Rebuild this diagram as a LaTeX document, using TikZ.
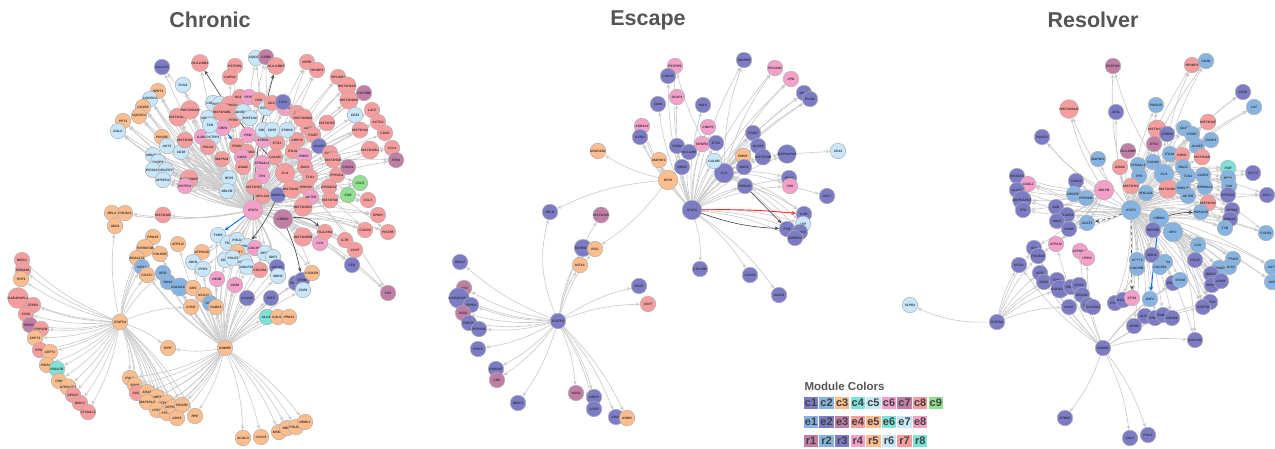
\documentclass[tikz,border=0pt]{standalone}
\usepackage{fontspec}
\setmainfont{Liberation Sans}
\usetikzlibrary{arrows.meta,backgrounds}
\definecolor{C1}{HTML}{7B7BC6}
\definecolor{C2}{HTML}{86B4E2}
\definecolor{C3}{HTML}{FDBD8C}
\definecolor{C4}{HTML}{7DE2D9}
\definecolor{C5}{HTML}{C9E7FA}
\definecolor{C6}{HTML}{F4A0CB}
\definecolor{C7}{HTML}{C07EA6}
\definecolor{C8}{HTML}{F89D9D}
\definecolor{C9}{HTML}{8FE08F}
\definecolor{ttl}{HTML}{555555}
\definecolor{edg}{HTML}{CBCBCB}
\tikzset{
 nd/.style={circle,draw=black!32,line width=0.5pt,minimum size=15.5pt,inner sep=0pt,
   font=\fontsize{3.3}{3.3}\selectfont\bfseries\itshape,text=black!80},
 hub/.style={nd,minimum size=19.5pt},
 edge/.style={draw=edg,line width=0.65pt,-{Stealth[length=4.4pt,width=3.6pt]},bend left=9},
 dedge/.style={draw=black!70,line width=0.65pt,-{Stealth[length=4.4pt,width=3.6pt]},bend left=6},
 bedge/.style={draw=blue!60!cyan,line width=0.9pt,-{Stealth[length=4.4pt,width=3.6pt]}},
 redge/.style={draw=red!85,line width=0.9pt,-{Stealth[length=4.4pt,width=3.6pt]},bend left=3},
 ttlsty/.style={font=\fontsize{21.5}{21.5}\selectfont\bfseries,text=ttl},
 sw/.style={minimum width=14.5pt,minimum height=12pt,inner sep=0pt,font=\fontsize{11}{11}\selectfont\bfseries,text=black!75}
}
\begin{document}
\begin{tikzpicture}[x=1pt,y=-1pt]
\useasboundingbox (0,0) rectangle (1275,448);
% titles
\node[ttlsty] (tC) at (210,20) {Chronic};
\node[ttlsty] (tE) at (648,20) {Escape};
\node[ttlsty] (tR) at (1093,20) {Resolver};
% ================= CHRONIC =================
\node[hub,fill=C6] (cSTAT1) at (253,210) {STAT1};
\node[nd,fill=C3] (cSTAT5A) at (120,322) {STAT5A};
\node[nd,fill=C3] (cKDM5B) at (225,348) {KDM5B};
\node[hub,fill=C7] (cCREB1) at (283,219) {CREB1};
\node[hub,fill=C8] (cFLI1) at (285,173) {FLI1};
\node[nd,fill=C5] (cRFX5) at (229,178) {RFX5};
\node[nd,fill=C5] (cNELFB) at (227,191) {NELFB};
\foreach \nm/\xx/\yy/\co/\lb in {
c1/162/67/C1/GALNT1, c2/200/63/C8/HLA-DRB1, c3/235/66/C8/PSTPIP1, c4/230/77/C8/CAPN2,
c5/256/58/C5/UQCRC1, c6/266/57/C7/CYBB, c7/276/66/C8/HLA-DRB5, c8/307/62/C8/NPPB,
c9/317/70/C8/HP1BP3, c10/338/77/C8/PECAM1, c11/347/86/C8/HIST1H2AE, c12/183/85/C5/FLNA,
c13/158/91/C3/HPRT1, c14/150/99/C5/UQCRC2, c15/143/107/C3/COX5B, c16/139/116/C3/UQCRC1,
c17/123/121/C3/PPT1, c18/118/131/C5/GALC, c19/178/117/C8/HIST1H2AL, c20/190/110/C8/HIST1H2AM,
c21/208/118/C5/NDUFS2, c22/162/137/C3/PIK3R2, c23/167/146/C5/AKT1, c24/181/152/C5/CD38,
c25/153/155/C5/NDUFA4, c26/158/162/C5/DUSP6, c27/153/170/C5/EIF2AK3, c28/166/170/C5/NDUFB7,
c29/163/180/C5/MTHFD2, c30/185/140/C8/HIST1H3E, c31/189/179/C8/HIST1H2BE, c32/202/137/C6/IL2RG,
c33/213/137/C5/DCTPP1, c34/208/147/C8/POLD2, c35/222/159/C8/MAPK11, c36/185/186/C6/ENTPD1,
c37/233/120/C8/PTEN, c38/223/128/C6/CBR1, c39/248/135/C6/PKM, c40/237/146/C8/ITGB2,
c41/247/152/C8/HLA-DMA, c42/242/157/C6/CMAS, c43/243/167/C8/GNAI2, c44/263/140/C6/STMN1,
c45/277/143/C8/ETS1, c46/297/140/C8/ARPC5, c47/308/128/C8/CD27, c48/313/135/C8/ITGB7,
c49/319/146/C1/ALOX5, c50/293/151/C8/ITGAL, c51/275/157/C8/CALM3, c52/262/163/C6/ST6GAL1,
c53/304/156/C6/PMVK, c54/262/176/C6/TPI1, c55/305/167/C8/RAC2, c56/310/177/C8/TLN1,
c57/254/187/C8/HIST1H1C, c58/263/196/C8/MYL12A, c59/278/195/C1/MAPK14, c60/292/189/C8/HIST1H2BD,
c61/306/187/C8/PRKCB, c62/329/187/C8/RPS6KA1, c63/311/197/C6/ACTR2, c64/303/207/C8/HIST1H2BC,
c65/330/200/C8/HIST1H3D, c66/327/123/C8/HIST1H1E, c67/330/153/C8/CASP1, c68/333/160/C8/HIST1H1B,
c69/337/175/C8/PPP2CA, c70/348/167/C7/CXCR1, c71/348/195/C9/FGR, c72/213/103/C5/CDK5R1,
c73/220/104/C5/HIST2H2, c74/230/105/C8/HIST1H2AH, c75/240/97/C8/SKAP1, c76/249/97/C6/PFKP,
c77/259/100/C8/HCK, c78/266/108/C5/EIF4A1, c79/272/103/C8/CD37, c80/285/108/C6/ZAP70,
c81/283/102/C1/LCP2, c82/297/113/C8/ZYX, c83/303/118/C8/HIST1H2BG, c84/263/130/C5/CBR3,
c85/272/130/C5/CD52, c86/287/130/C5/STMN3, c87/222/112/C8/HIST1H2BL, c88/243/112/C5/ADORA2A,
c89/250/118/C5/HIST1H4, c90/210/125/C5/TXN, c91/349/100/C8/HIST1H2BK, c92/364/93/C7/CSF2RB,
c93/372/110/C8/LAT2, c94/378/122/C8/ACTG1, c95/385/133/C8/CD3G, c96/392/148/C8/CCL4,
c97/396/160/C7/FPR1, c98/370/150/C8/HIST1H2BJ, c99/360/130/C8/HIST1H3A, c100/355/115/C5/CD53,
c101/360/183/C9/CCL5, c102/368/200/C8/CCL3, c103/378/215/C8/RHOH, c104/388/232/C8/PIK3R5,
c105/365/230/C8/CXCR4, c106/355/250/C8/CCR7, c107/352/265/C1/CD6, c108/388/293/C7/CD5,
c109/345/240/C8/IL7R, c110/163/215/C8/HIST1H2D, c111/112/213/C3/RELA, c112/125/213/C3/POLR2A,
c113/115/226/C3/ADD1, c114/153/237/C3/PRDX5, c115/178/244/C3/ATP5J2, c116/145/248/C3/TNFRSF1B,
c117/160/254/C3/POLR2B, c118/137/258/C3/B4GALT1, c119/142/267/C2/HIF1A, c120/147/275/C3/COX7C,
c121/163/273/C2/MTR, c122/168/282/C2/NOS2, c123/180/287/C2/GALNACT2, c124/193/288/C3/SMS,
c125/204/295/C3/NCOA1, c126/210/303/C2/USP7, c127/216/307/C3/RAB8A, c128/191/307/C3/CHUK,
c129/168/348/C3/IPPK, c130/202/252/C3/ATP6V1D, c131/193/262/C5/ADH1, c132/203/269/C5/ITPR1,
c133/218/235/C5/TYMS, c134/228/243/C5/TKT, c135/237/240/C5/POLK, c136/247/246/C5/POLE2,
c137/255/248/C6/CDC25B, c138/237/252/C3/ACOT7, c139/225/260/C5/CD33, c140/233/258/C5/POLE3,
c141/245/262/C5/NDUFV2, c142/265/253/C5/RPS6, c143/273/257/C5/SDF1, c144/247/267/C5/NDUFS1,
c145/217/279/C6/HEXB, c146/235/285/C6/CD86, c147/260/270/C8/CDC25A, c148/277/267/C1/CDC20,
c149/278/276/C5/MDH1, c150/247/298/C1/ACADS, c151/271/298/C1/E2F3, c152/267/317/C4/ALG10,
c153/278/317/C3/GALNS, c154/289/317/C3/PRDX2, c155/296/283/C1/PRKCD, c156/302/280/C1/STOM,
c157/303/290/C5/CCR1, c158/312/273/C3/CX3CR1, c159/303/237/C8/HIST1H2BB, c160/320/243/C6/LCK,
c161/325/232/C8/HLA-DRA, c163/22/260/C8/BIRC2, c164/23/270/C8/PRKAB1,
c165/21/279/C3/TRIT1, c166/18/298/C8/GABARAPL1, c167/33/305/C8/ZFPR1, c168/26/314/C8/SC5D,
c169/30/325/C7/PRKCD, c170/41/329/C8/PPP1CB, c171/35/338/C3/CHPT1, c172/40/350/C8/ITPKB,
c173/50/352/C3/CEPT1, c174/47/365/C3/PIK3CB, c175/57/369/C4/HSD17B, c176/59/381/C3/CRK,
c177/68/387/C3/ATP6V1E1, c178/73/395/C8/DECR1, c179/80/403/C8/BIRC3, c180/88/412/C8/ST3GAL3,
c181/130/378/C3/RALB, c182/135/385/C3/SDPR, c183/137/393/C8/SOS1, c184/147/392/C3/ARAS,
c185/157/397/C3/UMPS, c186/147/402/C3/MAP3K14, c187/167/403/C3/ATP6V1B2, c188/157/410/C3/LPIN2,
c189/167/413/C3/PTPN1, c190/173/407/C3/ATP6V1A, c191/182/405/C3/PIK3R4, c192/177/418/C3/ADSS,
c193/195/416/C3/RPE, c194/243/438/C3/ACACA, c195/261/437/C3/CXXC5, c196/279/432/C3/MSMO1,
c197/287/428/C3/NBR1, c198/296/427/C3/POLR3C, c199/305/422/C3/NBRK1}
 {\node[nd,fill=\co] (\nm) at (\xx,\yy) {\lb};}
% ================= ESCAPE =================
\node[hub,fill=C1] (eSTAT1) at (692,210) {STAT1};
\node[hub,fill=C1] (eFLI1) at (724,173) {FLI1};
\node[hub,fill=C3] (eRFX5) at (668,180) {RFX5};
\node[nd,fill=C1] (eSTAT5A) at (558,321) {STAT5A};
\foreach \nm/\xx/\yy/\co/\lb in {
e1/675/66/C6/PSTPIP1, e2/668/76/C1/CAPN2, e3/744/60/C1/INPP5B, e4/775/68/C6/PECAM1,
e5/791/79/C6/CPD, e6/804/93/C1/CD3E, e7/810/99/C1/EVI2B, e8/677/97/C6/SKAP1,
e9/658/104/C1/CD48, e10/703/105/C1/WAS, e11/642/126/C6/AKR1A1, e12/640/137/C1/IL2RG,
e13/708/127/C6/CNDP2, e14/753/133/C1/ITGB7, e15/677/146/C1/ITGB2, e16/702/144/C6/MTMR4,
e17/716/143/C1/ETS1, e18/758/146/C1/ALOX5, e19/689/152/C1/HLA-DMB, e20/598/151/C3/NDUFAB1,
e21/659/160/C3/MAP4K1, e22/714/161/C5/CALM3, e23/743/156/C3/PMVK, e24/763/157/C1/HIST1H3B,
e25/787/154/C1/MAPKAPK3, e26/838/151/C5/CD14, e27/682/167/C1/GNB2, e28/744/167/C1/RAC2,
e29/789/178/C1/PFN1, e30/745/186/C1/PRKCB, e31/790/186/C6/CSK, e32/827/196/C1/ACLY,
e33/804/214/C1/IL4R, e34/803/224/C5/LEP, e35/787/229/C1/FYB, e36/800/232/C1/CCND3,
e37/795/238/C1/ADRBK1, e38/700/269/C1/CDC25B, e39/750/275/C1/CXCR1, e40/779/295/C1/ALDH2,
e41/550/212/C1/RELB, e42/601/215/C7/HIST1H2D, e43/583/248/C1/TNFRSF1B, e44/595/249/C3/BSG,
e45/580/265/C3/HIF1A, e46/639/286/C1/NCK1, e47/648/304/C8/USP7, e48/460/262/C1/BIRC2,
e49/464/288/C7/LSS1, e50/459/298/C1/GABARAPL1, e51/471/305/C1/ZFPR1, e52/463/313/C7/SC5D,
e53/469/323/C1/PRKCD, e54/479/329/C1/PPP1CB, e55/478/349/C1/ITPKB, e56/496/369/C1/HSD2MT,
e57/497/380/C7/CRK, e58/518/403/C1/BIRC3, e59/576/393/C7/SOS1, e60/594/397/C1/UMPS,
e61/594/409/C1/LPIN3, e62/616/417/C1/ADSS, e63/627/418/C3/NSMN}
 {\node[nd,fill=\co] (\nm) at (\xx,\yy) {\lb};}
% ================= RESOLVER =================
\node[hub,fill=C2] (rSTAT1) at (1131,210) {STAT1};
\node[hub,fill=C2] (rFLI1) at (1164,174) {FLI1};
\node[hub,fill=C2] (rCREB1) at (1159,218) {CREB1};
\node[hub,fill=C6] (rNELFB) at (1104,190) {NELFB};
\node[hub,fill=C2] (rIRF1) at (1173,232) {IRF1};
\node[nd,fill=C1] (rSTAT5A) at (997,322) {STAT5A};
\node[nd,fill=C1] (rKDM5B) at (1103,348) {KDM5B};
\foreach \nm/\xx/\yy/\co/\lb in {
r1/1113/66/C7/PSTPIP1, r2/1192/65/C8/HP1BP3, r3/1206/61/C2/CD3D, r4/1243/92/C1/CD3E,
r5/1254/107/C2/LAT, r6/1069/109/C8/HIST1H2AM, r7/1116/112/C1/ADSL, r8/1156/105/C2/PIK3CD,
r9/1042/137/C1/PIK3C3, r10/1157/129/C8/HIST1H2BF, r11/1167/134/C1/STMN2, r12/1184/128/C2/CD27,
r13/1192/134/C2/ITGB7, r14/1208/122/C8/HIST1H1E, r15/1211/140/C2/CASP1, r16/1154/144/C7/ETS1,
r17/1128/151/C7/HLA-DMB, r18/1197/146/C2/ALOX5, r19/1170/154/C2/ITGAL, r20/1182/155/C8/PMVK,
r21/1202/157/C8/HIST1H1B, r22/1098/159/C2/MAP4K1, r23/1153/162/C2/CALM3, r24/1120/167/C8/GNAI2,
r25/1138/165/C2/ST6GAL1, r26/1183/167/C2/RAC2, r27/1188/176/C2/TLN1, r28/1139/176/C2/TPI1,
r29/1228/168/C4/FGR, r30/1253/173/C1/SYLT1, r31/1203/175/C2/CASP2, r32/1228/178/C2/PFN1,
r33/1229/186/C2/CSK, r34/1017/176/C1/EIF2AK3, r35/1028/184/C6/CCBL2, r36/1017/190/C1/ALAS1,
r37/1022/200/C1/MAPKAPK3, r38/1023/210/C1/TPO, r39/1076/181/C1/TAOK3, r40/1074/194/C2/NDUFB1,
r41/1086/198/C2/PPP2CB, r42/1131/186/C8/HIST1H1C, r43/1146/193/C2/MYL12A, r44/1168/189/C8/HIST1H2BD,
r45/1183/188/C2/PRKCB, r46/1205/187/C2/RPS6KA1, r47/1188/196/C2/ACTR2, r48/1228/195/C1/PPP2CA,
r49/1267/195/C1/ACLY, r50/1208/203/C8/HIST1H3C, r51/1201/212/C2/PRKACB, r52/1232/210/C1/NTRK2,
r53/1230/219/C1/SMAD1, r54/1225/228/C2/FYB, r55/1266/233/C2/CXCR1, r56/1056/207/C1/ADK,
r57/1067/215/C1/PLA2G6, r58/1087/223/C2/ACAT1, r59/1057/221/C1/SOD2, r60/1069/229/C1/SDHB,
r61/1153/230/C1/INPP5B, r62/1056/244/C6/ATP5J2, r63/1034/248/C1/IDS, r64/1038/256/C1/POLR2B,
r65/1080/251/C6/ATP6V1D, r66/1087/258/C6/ITPR1, r67/1019/265/C1/HIF1A, r68/1198/245/C2/LCK,
r69/1195/260/C1/ITGAV, r70/1233/259/C2/TRAF5, r71/1229/267/C2/SOCS3, r72/1219/268/C2/TRADD,
r73/1211/274/C1/BIRC2, r74/1212/285/C1/NFKB1, r75/1221/281/C1/LPIN1, r76/1272/267/C2/AKT1,
r77/1272/282/C2/ACE, r78/1137/260/C2/ACSL3, r79/1137/268/C2/CDC25B, r80/1152/255/C1/MSH6,
r81/1165/262/C2/ITGA4, r82/1160/267/C2/CDC25A, r83/1040/273/C1/MTR, r84/1044/282/C1/NOS2,
r85/1057/280/C1/TAB2, r86/1060/289/C1/GALNACT2, r87/1071/287/C1/FBXO9, r88/1079/285/C1/NCKX,
r89/1082/295/C1/NCOA1, r90/1088/305/C1/USP7, r91/1093/307/C1/SLC25A1, r92/1069/307/C1/CHUK,
r93/1115/303/C1/CHI3L, r94/1123/300/C1/ACADS, r95/1132/298/C6/CTSS, r96/1150/299/C2/E2F3,
r97/1145/316/C1/ALG10, r98/1155/318/C1/PPM1B, r99/1163/315/C1/RAB8A, r100/1172/318/C1/DECR2,
r101/1134/326/C1/ARSB, r102/910/305/C5/S1PR1, r103/1195/340/C1/NUCKS1, r104/1210/302/C1/PPM1A,
r105/1203/307/C1/STAT5B, r106/1173/283/C1/PRKCD, r107/1180/280/C2/STOM, r108/1065/418/C1/STRN3,
r109/1130/438/C1/CUL2, r110/1148/435/C1/POLK}
 {\node[nd,fill=\co] (\nm) at (\xx,\yy) {\lb};}
% ================= EDGES =================
\begin{pgfonlayer}{background}
% chronic
\foreach \i in {1,...,110} \draw[edge] (cSTAT1) to (c\i);
\foreach \i in {111,112,130,131,132,134,135,137,139,140,141,142,143,144,147,148,149,158,159,160,161} \draw[edge] (cSTAT1) to (c\i);
\foreach \i in {12,...,36} \draw[edge] (cRFX5) to (c\i);
\foreach \i in {13,...,31} \draw[edge] (cNELFB) to (c\i);
\foreach \i in {1,5,6,8,9,10,11,66,91,92,94,96,97,99,101,102,104,105,106,108} \draw[edge] (cFLI1) to (c\i);
\foreach \i in {101,...,109,158,159,160,161,65,69,70,71} \draw[edge] (cCREB1) to (c\i);
\foreach \i in {113,114,116,118,119,120,121,128,129,163,164,165,166,167,168,169,170,171,172,173,174,175,176,177,178,179,180,181,182,183,184,185,186,187,188,189,190,191,192,193} \draw[edge] (cSTAT5A) to (c\i);
\foreach \i in {114,115,117,119,120,121,122,123,124,125,126,127,128,129,130,131,132,133,134,136,138,139,140,141,142,144,145,146,147,148,149,150,151,152,153,154,155,156,157,158,181,182,184,185,186,187,188,189,190,191,192,193,194,195,196,197,198,199} \draw[edge] (cKDM5B) to (c\i);
\draw[bedge] (cSTAT1) to (c133);
\draw[bedge] (c38) -- (c40);
\draw[dedge] (cFLI1) to (c2);
\draw[dedge] (cSTAT1) to (c7);
\draw[dedge] (c59) to (c136);
\draw[dedge,bend left=25] (cCREB1) to (c161);
\draw[dedge] (cCREB1) to (c156);
% escape
\foreach \i in {1,...,19,21,22,23,24,25,27,28,29,30,31,34,36,37,38,39,40} \draw[edge] (eSTAT1) to (e\i);
\foreach \i in {1,3,4,5,6,7,14,18,23,24,25,28,29,31,33,34,36,37} \draw[edge] (eFLI1) to (e\i);
\foreach \i in {11,12,20,21,44} \draw[edge] (eRFX5) to (e\i);
\draw[edge,bend right=10] (eRFX5) to (e41);
\foreach \i in {42,...,63} \draw[edge] (eSTAT5A) to (e\i);
\draw[edge,bend left=18] (eSTAT5A) to (e41);
\draw[edge] (e25) -- (e26);
\draw[edge] (e31) -- (e32);
\draw[edge] (e30) to (e33);
\draw[redge] (eSTAT1) to (e33);
\draw[dedge,bend right=8] (eSTAT1) to (e35);
\draw[dedge] (e30) -- (e35);
% resolver
\foreach \i in {1,...,61,68,69,70,71,72,73,74,75,76,77,78,79,80,81,82,93,94,95,96,97,98,99,100,101,103,104,105,106,107} \draw[edge] (rSTAT1) to (r\i);
\foreach \i in {1,2,3,4,5,8,10,11,12,13,14,15,29,30,31,32,33,48,49,50,51,52,53,54,55} \draw[edge] (rFLI1) to (r\i);
\foreach \i in {49,52,53,54,55,68,...,77,93,...,100,104,105} \draw[edge] (rCREB1) to (r\i);
\foreach \i in {6,9,34,35,36,37,38,56,57,58,59,60,62,63,64} \draw[edge] (rNELFB) to (r\i);
\foreach \i in {68,...,77,103,104,105} \draw[edge] (rIRF1) to (r\i);
\foreach \i in {67,63,64,83,84,92,85,86} \draw[edge] (rSTAT5A) to (r\i);
\draw[edge,bend left=12] (rSTAT5A) to (r102);
\foreach \i in {62,...,67,83,...,101,103,104,105,106,107,108,109,110} \draw[edge] (rKDM5B) to (r\i);
\draw[dedge,dashed] (rSTAT1) to (r58);
\draw[dedge,dashed] (rSTAT1) -- (r95);
\draw[bedge] (rCREB1) -- (r96);
\draw[dedge] (rCREB1) to (r51);
\end{pgfonlayer}
% ================= LEGEND =================
\node[anchor=west,font=\fontsize{11.5}{11.5}\selectfont\bfseries,text=ttl] (lgT) at (801,386) {Module Colors};
\foreach \i/\lb/\co in {0/c1/C1,1/c2/C2,2/c3/C3,3/c4/C4,4/c5/C5,5/c6/C6,6/c7/C7,7/c8/C8,8/c9/C9}
  \node[sw,fill=\co] (lc\i) at (811+\i*15.6,403) {\lb};
\foreach \i/\lb/\co in {0/e1/C2,1/e2/C1,2/e3/C7,3/e4/C8,4/e5/C3,5/e6/C4,6/e7/C5,7/e8/C6}
  \node[sw,fill=\co] (le\i) at (811+\i*15.6,422) {\lb};
\foreach \i/\lb/\co in {0/r1/C7,1/r2/C2,2/r3/C1,3/r4/C6,4/r5/C3,5/r6/C5,6/r7/C8,7/r8/C4}
  \node[sw,fill=\co] (lr\i) at (811+\i*15.6,441) {\lb};
\end{tikzpicture}
\end{document}
